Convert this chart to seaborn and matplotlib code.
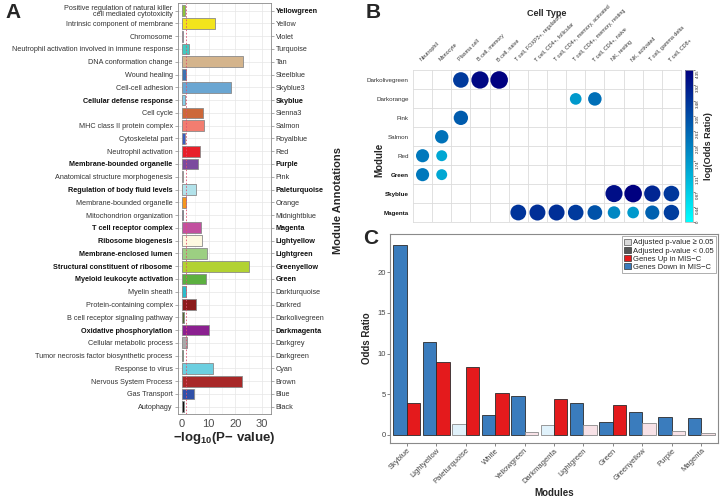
import matplotlib
matplotlib.use('Agg')
import matplotlib.pyplot as plt
from matplotlib.colors import LinearSegmentedColormap, Normalize
from matplotlib.cm import ScalarMappable
from matplotlib.patches import Patch
import seaborn as sns
import pandas as pd


# ---- panel A: GO terms per module
go_terms = [
    'Positive regulation of natural killer\ncell mediated cytotoxicity',
    'Intrinsic component of membrane', 'Chromosome',
    'Neutrophil activation involved in immune response',
    'DNA conformation change', 'Wound healing', 'Cell-cell adhesion',
    'Cellular defense response', 'Cell cycle', 'MHC class II protein complex',
    'Cytoskeletal part', 'Neutrophil activation', 'Membrane-bounded organelle',
    'Anatomical structure morphogenesis', 'Regulation of body fluid levels',
    'Membrane-bounded organelle', 'Mitochondrion organization',
    'T cell receptor complex', 'Ribosome biogenesis', 'Membrane-enclosed lumen',
    'Structural constituent of ribosome', 'Myeloid leukocyte activation',
    'Myelin sheath', 'Protein-containing complex',
    'B cell receptor signaling pathway', 'Oxidative phosphorylation',
    'Cellular metabolic process', 'Tumor necrosis factor biosynthetic process',
    'Response to virus', 'Nervous System Process', 'Gas Transport', 'Autophagy',
]
modules_a = [
    'Yellowgreen', 'Yellow', 'Violet', 'Turquoise', 'Tan', 'Steelblue',
    'Skyblue3', 'Skyblue', 'Sienna3', 'Salmon', 'Royalblue', 'Red', 'Purple',
    'Pink', 'Paleturquoise', 'Orange', 'Midnightblue', 'Magenta',
    'Lightyellow', 'Lightgreen', 'Greenyellow', 'Green', 'Darkturquoise',
    'Darkred', 'Darkolivegreen', 'Darkmagenta', 'Darkgrey', 'Darkgreen',
    'Cyan', 'Brown', 'Blue', 'Black',
]
neg_log_p = [1.0, 12.5, 0.3, 2.5, 23.0, 1.4, 18.2, 1.0, 7.9, 8.1, 1.2, 6.9,
             5.9, 0.5, 5.4, 1.3, 0.5, 7.0, 7.6, 9.5, 25.2, 9.0, 1.6, 5.4,
             0.7, 10.1, 2.0, 0.2, 11.5, 22.4, 4.4, 0.9]
bar_colors = [
    '#8fc23a', '#f2e41c', '#c86fc8', '#45c8c0', '#d4b48c', '#3f72b2',
    '#6aa6d2', '#87cdea', '#cd6839', '#f27d70', '#3c5cc0', '#e8202a',
    '#7b4a9e', '#f8c0c8', '#b2e2ea', '#f5961e', '#1f1f6a', '#c2509f',
    '#fdf9e0', '#9ccf82', '#b2d232', '#5cb040', '#2cbccb', '#8b1a1a',
    '#556b2f', '#8b2090', '#a9a9a9', '#006400', '#6ccfe0', '#a82828',
    '#3050a8', '#111111',
]
bold_modules = ['Yellowgreen', 'Skyblue', 'Purple', 'Paleturquoise', 'Magenta',
                'Lightyellow', 'Lightgreen', 'Greenyellow', 'Green', 'Darkmagenta']
bold_terms_idx = [7, 12, 14, 17, 18, 19, 20, 21, 25]

# ---- panel B: cell type enrichment
b_modules = ['Darkolivegreen', 'Darkorange', 'Pink', 'Salmon', 'Red', 'Green',
             'Skyblue', 'Magenta']
b_bold = ['Green', 'Skyblue', 'Magenta']
b_cells = ['Neutrophil', 'Monocyte', 'Plasma cell', 'B cell, memory',
           'B cell, naive', 'T cell, FOXP3+, regulatory',
           'T cell, CD4+, follicular', 'T cell, CD4+, memory, activated',
           'T cell, CD4+, memory, resting', 'T cell, CD4+, naive',
           'NK, resting', 'NK, activated', 'T cell, gamma delta', 'T cell, CD8+']
b_dot_module = ['Darkolivegreen'] * 3 + ['Darkorange'] * 2 + ['Pink', 'Salmon'] \
    + ['Red'] * 2 + ['Green'] * 2 + ['Skyblue'] * 4 + ['Magenta'] * 9
b_dot_cell = ['Plasma cell', 'B cell, memory', 'B cell, naive',
              'T cell, CD4+, memory, resting', 'T cell, CD4+, naive',
              'Plasma cell', 'Monocyte',
              'Neutrophil', 'Monocyte', 'Neutrophil', 'Monocyte',
              'NK, resting', 'NK, activated', 'T cell, gamma delta', 'T cell, CD8+',
              'T cell, FOXP3+, regulatory', 'T cell, CD4+, follicular',
              'T cell, CD4+, memory, activated', 'T cell, CD4+, memory, resting',
              'T cell, CD4+, naive', 'NK, resting', 'NK, activated',
              'T cell, gamma delta', 'T cell, CD8+']
b_dot_value = [3.35, 4.2, 4.35, 1.75, 2.45, 2.8, 2.4, 2.3, 1.5, 2.3, 1.5,
               4.1, 4.35, 3.7, 3.4, 3.45, 3.55, 3.55, 3.35, 2.95, 2.05, 1.75,
               2.7, 3.3]
cbar_ticks = [0, 0.44, 0.87, 1.31, 1.74, 2.18, 2.61, 3.05, 3.48, 3.92, 4.35]

# ---- panel C: odds ratios
c_modules = ['Skyblue', 'Lightyellow', 'Paleturquoise', 'White', 'Yellowgreen',
             'Darkmagenta', 'Lightgreen', 'Green', 'Greenyellow', 'Purple', 'Magenta']
c_down = [23.4, 11.4, 1.3, 2.5, 4.75, 1.2, 3.9, 1.55, 2.8, 2.25, 2.05]
c_up = [3.9, 8.9, 8.35, 5.2, 0.3, 4.35, 1.2, 3.65, 1.4, 0.5, 0.2]
c_down_sig = [True, True, False, True, True, False, True, True, True, True, True]
c_up_sig = [True, True, True, True, False, True, False, True, False, False, False]

sns.set_theme(style='white')
plt.rcParams['font.family'] = ['Liberation Sans', 'DejaVu Sans']
plt.rcParams['mathtext.default'] = 'regular'

fig = plt.figure(figsize=(7.2, 4.98), dpi=100)
W, H = 720, 498


def px_axes(x0, y0, x1, y1):
    return fig.add_axes([x0 / W, 1 - y1 / H, (x1 - x0) / W, (y1 - y0) / H])


# ================= Panel A =================
ax_a = px_axes(177.5, 3, 271, 414.4)
sns.barplot(x=neg_log_p, y=modules_a, hue=modules_a, palette=bar_colors,
            order=modules_a, hue_order=modules_a, orient='h', legend=False,
            width=0.84, saturation=1, edgecolor='#8a8a8a', linewidth=0.6,
            ax=ax_a, zorder=3)
ax_a.set_xlim(-1.7, 33.3)
ax_a.set_ylim(31.6, -0.6)
ax_a.set_xticks([0, 10, 20, 30])
ax_a.set_xticks([5, 15, 25], minor=True)
ax_a.grid(True, which='major', color='#e6e6e6', lw=0.5, zorder=0)
ax_a.grid(True, which='minor', axis='x', color='#f0f0f0', lw=0.4, zorder=0)
ax_a.axvline(1.3, color='#e05070', ls=(0, (2, 2)), lw=0.6, zorder=4)
ax_a.set_yticks(range(len(go_terms)))
ax_a.set_yticklabels(go_terms, fontsize=5.2, color='#333333', linespacing=0.85)
for i, lab in enumerate(ax_a.get_yticklabels()):
    if i in bold_terms_idx:
        lab.set_fontweight('bold')
        lab.set_color('#111111')
ax_a.tick_params(axis='y', length=2, width=0.5, color='#8a8a8a', pad=1.5)
ax_a.tick_params(axis='x', length=2, width=0.5, color='#8a8a8a', pad=1,
                 labelsize=8, labelcolor='#4d4d4d')
for s in ax_a.spines.values():
    s.set_color('#8a8a8a')
    s.set_linewidth(0.6)
ax_a.set_xlabel('−log$_{10}$(P− value)', fontsize=9.5, fontweight='bold', labelpad=1)
ax_a.set_ylabel('')

ax_a2 = ax_a.twinx()
ax_a2.set_ylim(ax_a.get_ylim())
ax_a2.set_yticks(range(len(modules_a)))
ax_a2.set_yticklabels(modules_a, fontsize=5.2, color='#333333')
for lab in ax_a2.get_yticklabels():
    if lab.get_text() in bold_modules:
        lab.set_fontweight('bold')
        lab.set_color('#111111')
ax_a2.tick_params(axis='y', length=2, width=0.5, color='#8a8a8a', pad=1.5)
for s in ax_a2.spines.values():
    s.set_visible(False)
fig.text(338 / W, 1 - 200 / H, 'Module Annotations', rotation=90, ha='center',
         va='center', fontsize=8, fontweight='bold')

# ================= Panel B =================
ax_b = px_axes(413, 70.5, 681, 222)
cmap = LinearSegmentedColormap.from_list('cy_navy', ['#00ffff', '#000080'])
norm = Normalize(0, 4.35)
df_b = pd.DataFrame({
    'x': [b_cells.index(c) for c in b_dot_cell],
    'y': [b_modules.index(m) for m in b_dot_module],
    'val': b_dot_value,
})
sns.scatterplot(data=df_b, x='x', y='y', hue='val', size='val',
                palette=cmap, hue_norm=norm, sizes=(62, 160),
                size_norm=(1.5, 4.35), linewidth=0, legend=False,
                ax=ax_b, zorder=3)
ax_b.set_xlim(-0.5, len(b_cells) - 0.5)
ax_b.set_ylim(len(b_modules) - 0.5, -0.5)
ax_b.set_xticks(range(len(b_cells)))
ax_b.set_xticks([i + 0.5 for i in range(len(b_cells) - 1)], minor=True)
ax_b.set_yticks(range(len(b_modules)))
ax_b.set_yticks([i + 0.5 for i in range(len(b_modules) - 1)], minor=True)
ax_b.grid(True, which='minor', color='#dcdcdc', lw=0.6, zorder=0)
ax_b.grid(False, which='major')
ax_b.xaxis.tick_top()
ax_b.set_xticklabels(b_cells, rotation=45, ha='left', rotation_mode='anchor',
                     fontsize=3.9, color='#333333')
ax_b.set_yticklabels(b_modules, fontsize=4.5, color='#333333')
for lab in ax_b.get_yticklabels():
    if lab.get_text() in b_bold:
        lab.set_fontweight('bold')
        lab.set_color('#111111')
ax_b.tick_params(which='both', length=0)
ax_b.tick_params(axis='x', pad=6)
ax_b.tick_params(axis='y', pad=3)
for s in ax_b.spines.values():
    s.set_color('#dcdcdc')
    s.set_linewidth(0.6)
ax_b.set_xlabel('')
ax_b.set_ylabel('')
fig.text(379 / W, 1 - 160 / H, 'Module', rotation=90, ha='center', va='center',
         fontsize=7, fontweight='bold')
fig.text(547 / W, 1 - 14 / H, 'Cell Type', ha='center', va='center',
         fontsize=6.5, fontweight='bold')

cax = px_axes(685, 70.5, 693, 222)
cb = fig.colorbar(ScalarMappable(norm=norm, cmap=cmap), cax=cax)
cb.set_ticks(cbar_ticks)
cb.set_ticklabels([('%g' % t) if t == 0 else ('%.2f' % t) for t in cbar_ticks])
cb.ax.tick_params(labelsize=3.2, length=1.2, width=0.4, pad=1, labelrotation=90)
cb.outline.set_edgecolor('#aaaaaa')
cb.outline.set_linewidth(0.5)
cb.set_label('log(Odds Ratio)', fontsize=6.5, fontweight='bold', labelpad=3)

# ================= Panel C =================
ax_c = px_axes(390, 234, 718, 443)
df_c = pd.DataFrame({
    'module': c_modules * 2,
    'direction': ['Down'] * len(c_modules) + ['Up'] * len(c_modules),
    'odds': c_down + c_up,
})
sns.barplot(data=df_c, x='module', y='odds', hue='direction', order=c_modules,
            hue_order=['Down', 'Up'], palette={'Down': '#3a7cbd', 'Up': '#e41a1c'},
            width=0.91, saturation=1, edgecolor='#2b2b2b', linewidth=0.6,
            legend=False, ax=ax_c)
light = {0: '#e0f2fb', 1: '#f8e2e7'}
for k, (cont, sig) in enumerate(zip(ax_c.containers, [c_down_sig, c_up_sig])):
    for bar, s in zip(cont, sig):
        if not s:
            bar.set_facecolor(light[k])
            bar.set_edgecolor('#8a8a8a')
ax_c.set_xlim(-0.57, len(c_modules) - 0.43)
ax_c.set_ylim(-1.0, 24.7)
ax_c.set_yticks([0, 5, 10, 15, 20])
ax_c.tick_params(axis='y', length=2, width=0.5, color='#555555', pad=1,
                 labelsize=5.5, labelcolor='#444444', left=True)
ax_c.tick_params(axis='x', length=2, width=0.5, color='#555555', pad=1,
                 labelsize=5.5, labelcolor='#444444', bottom=True)
plt.setp(ax_c.get_xticklabels(), rotation=45, ha='right', rotation_mode='anchor')
for s in ax_c.spines.values():
    s.set_color('#8a8a8a')
    s.set_linewidth(0.8)
ax_c.set_xlabel('Modules', fontsize=7, fontweight='bold', labelpad=2)
ax_c.set_ylabel('Odds Ratio', fontsize=7, fontweight='bold', labelpad=4)
handles = [Patch(facecolor='#d9d9d9', edgecolor='#555555', lw=0.5),
           Patch(facecolor='#555555', edgecolor='#333333', lw=0.5),
           Patch(facecolor='#e41a1c', edgecolor='#333333', lw=0.5),
           Patch(facecolor='#3a7cbd', edgecolor='#333333', lw=0.5)]
labels = ['Adjusted p-value ≥ 0.05', 'Adjusted p-value < 0.05',
          'Genes Up in MIS−C', 'Genes Down in MIS−C']
leg = ax_c.legend(handles, labels, loc='upper right', fontsize=5.5,
                  frameon=True, fancybox=False, edgecolor='#8a8a8a',
                  handlelength=0.9, handleheight=0.9, handletextpad=0.2,
                  borderpad=0.3, labelspacing=0.05, borderaxespad=0.3)
leg.get_frame().set_linewidth(0.6)

# panel letters
fig.text(5 / W, 1 - 12 / H, 'A', fontsize=15, fontweight='bold', va='center')
fig.text(366 / W, 1 - 12 / H, 'B', fontsize=15, fontweight='bold', va='center')
fig.text(363 / W, 1 - 238 / H, 'C', fontsize=15, fontweight='bold', va='center')

fig.savefig('out.png', dpi=100)
